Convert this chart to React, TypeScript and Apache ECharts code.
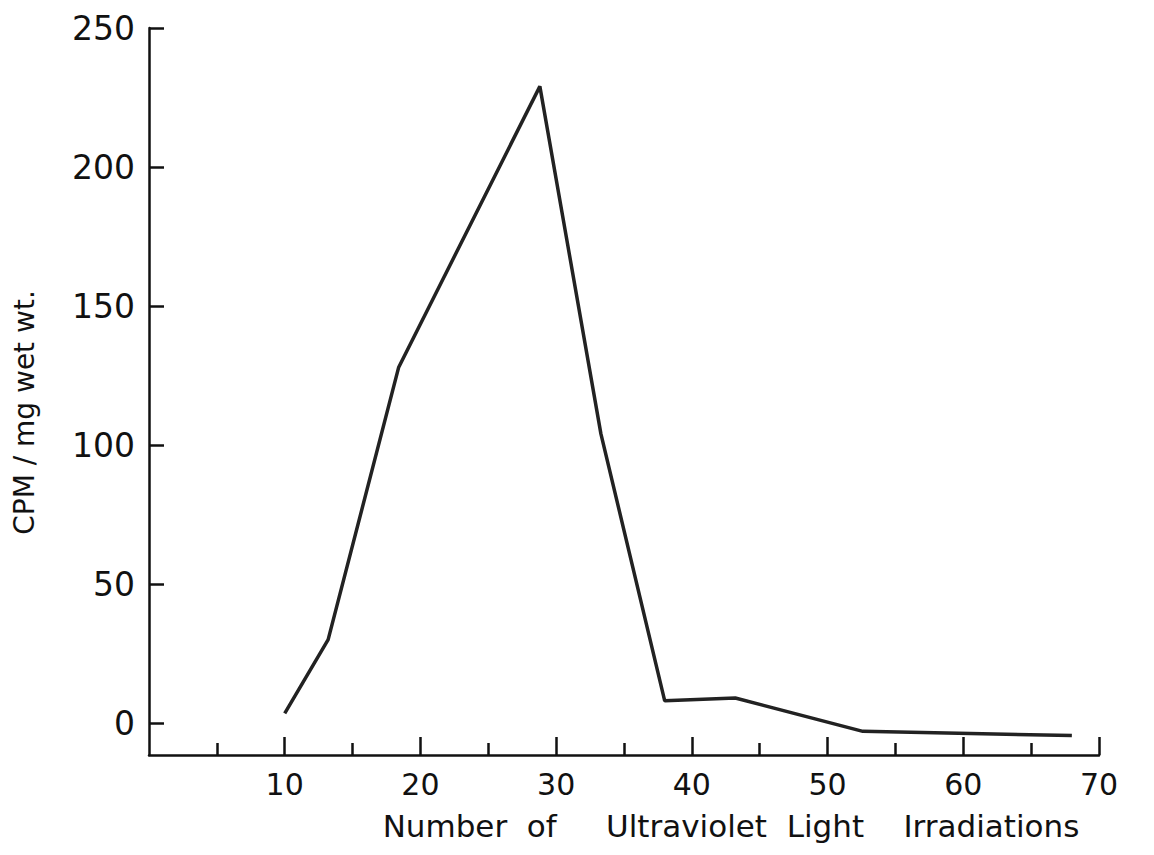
import React, { useEffect, useRef } from "react";
import * as echarts from "echarts";

const irradiations = [10, 13.2, 18.4, 28.8, 33.3, 38.0, 43.2, 52.6, 68.0];
const cpm = [3.5, 30, 128, 229, 104, 8, 9, -3, -4.5];
const yTicks = [0, 50, 100, 150, 200, 250];
const xMajorTicks = [10, 20, 30, 40, 50, 60, 70];
const xMinorTicks = [5, 15, 25, 35, 45, 55, 65];

const FONT = "'DejaVu Sans', sans-serif";

export default function App() {
  const ref = useRef<HTMLDivElement>(null);
  useEffect(() => {
    if (!ref.current) return;
    const chart = echarts.init(ref.current, null, { renderer: "svg" });
    const axisCommon = {
      type: "value",
      min: 0,
      max: 70,
      splitLine: { show: false },
    };
    chart.setOption({
      animation: false,
      backgroundColor: "#fff",
      grid: {
        left: 141,
        right: 47,
        top: 20,
        bottom: 92,
        containLabel: false,
        outerBoundsMode: "none",
      },
      xAxis: [
        {
          ...axisCommon,
          axisLine: { show: true, onZero: false, lineStyle: { color: "#111", width: 2.5 } },
          axisTick: {
            show: true,
            inside: true,
            length: 18,
            lineStyle: { color: "#111", width: 2.5 },
            customValues: xMajorTicks,
          },
          axisLabel: {
            show: true,
            customValues: xMajorTicks,
            color: "#111",
            fontSize: 30,
            fontFamily: FONT,
            margin: 14,
          },
          name: "Number  of     Ultraviolet  Light    Irradiations",
          nameLocation: "middle",
          nameGap: 55,
          nameTextStyle: {
            color: "#111",
            fontSize: 31,
            fontFamily: FONT,
            padding: [0, 0, 0, 214],
          },
        },
        {
          ...axisCommon,
          position: "bottom",
          axisLine: { show: false, onZero: false },
          axisTick: {
            show: true,
            inside: true,
            length: 12,
            lineStyle: { color: "#111", width: 2.5 },
            customValues: xMinorTicks,
          },
          axisLabel: { show: false },
        },
      ],
      yAxis: {
        type: "value",
        min: -11.5,
        max: 250,
        splitLine: { show: false },
        axisLine: { show: true, lineStyle: { color: "#111", width: 2.5 } },
        axisTick: {
          show: true,
          inside: true,
          length: 15,
          lineStyle: { color: "#111", width: 2.5 },
          customValues: yTicks,
        },
        axisLabel: {
          customValues: yTicks,
          color: "#111",
          fontSize: 33,
          fontFamily: FONT,
          margin: 14,
        },
        name: "CPM / mg wet wt.",
        nameLocation: "middle",
        nameGap: 111,
        nameTextStyle: {
          color: "#111",
          fontSize: 28,
          fontFamily: FONT,
          padding: [0, 42, 0, 0],
        },
      },
      series: [
        {
          type: "line",
          data: irradiations.map((x, i) => [x, cpm[i]]),
          showSymbol: false,
          symbol: "none",
          lineStyle: { color: "#222", width: 3.5 },
        },
      ],
    });
    return () => chart.dispose();
  }, []);
  return <div ref={ref} style={{ width: 1138, height: 839 }} />;
}
